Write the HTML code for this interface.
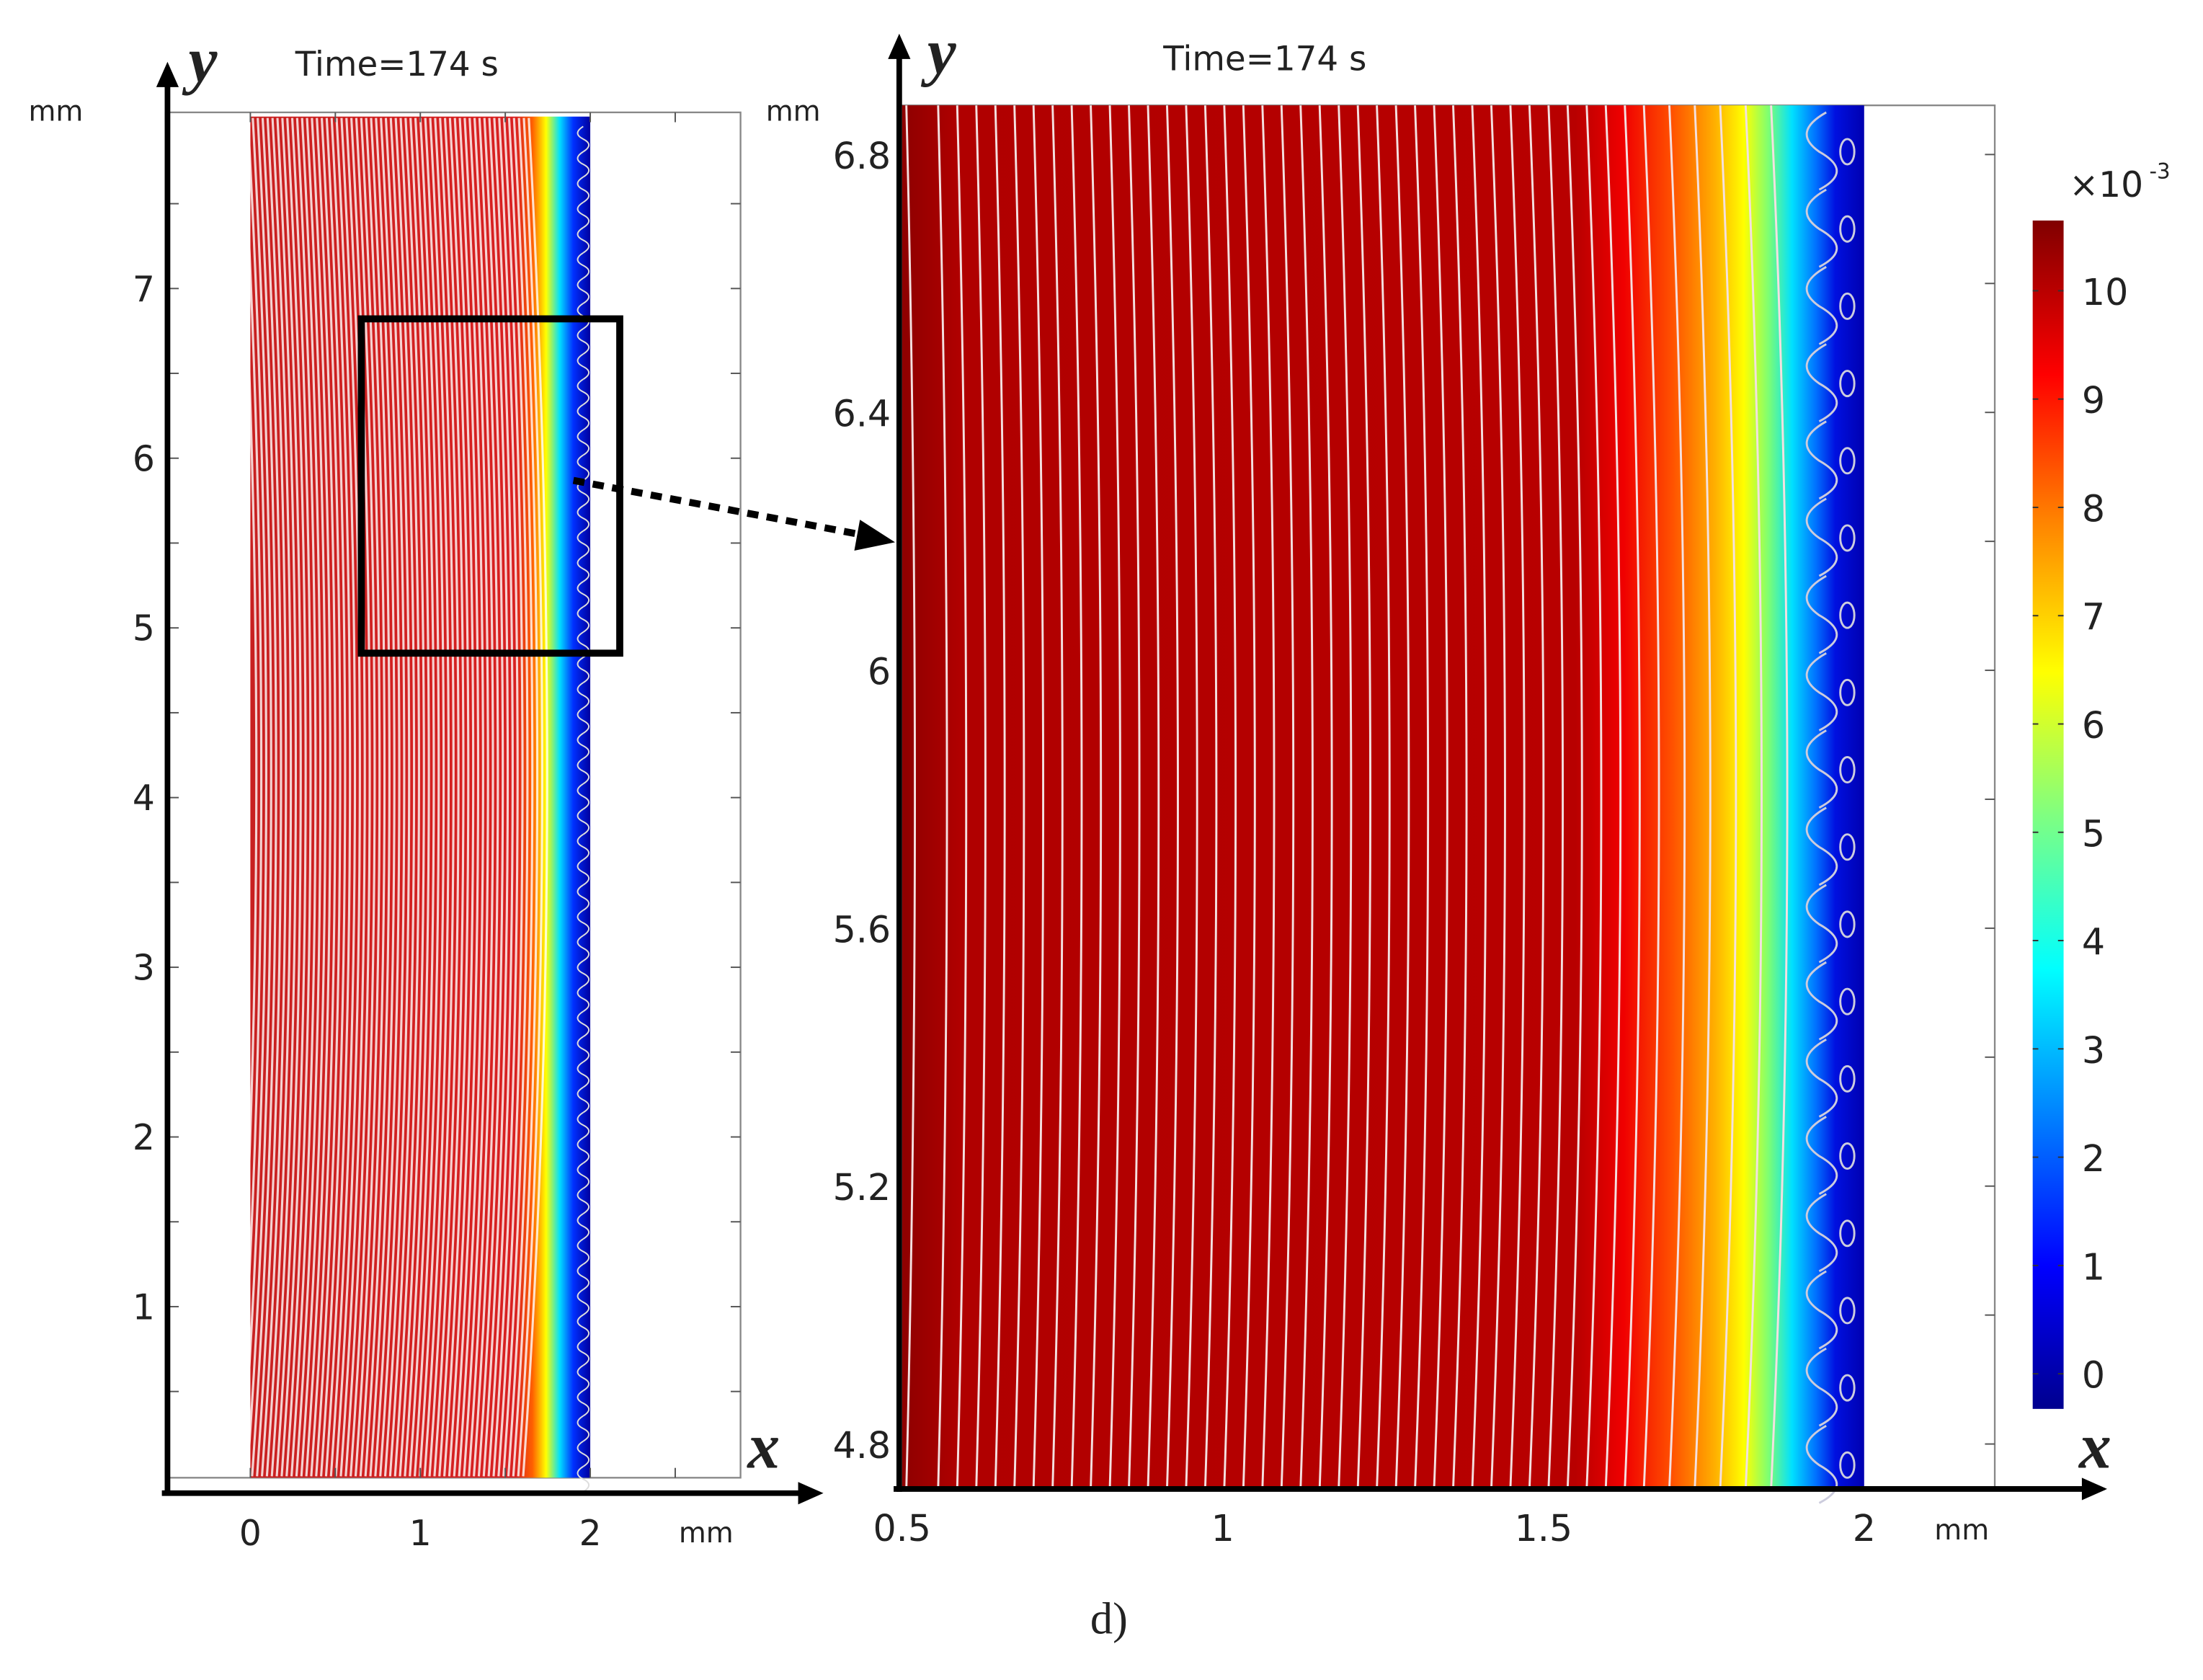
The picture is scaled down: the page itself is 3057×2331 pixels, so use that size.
<!DOCTYPE html>
<html><head><meta charset="utf-8"><style>
html,body{margin:0;padding:0;background:#fff;}
svg{display:block;}
text{font-family:"DejaVu Sans","Liberation Sans",sans-serif;fill:#222;}
</style></head><body>
<svg id="fig" width="3057" height="2331" viewBox="0 0 1568 1196" xmlns="http://www.w3.org/2000/svg">
<defs>
<linearGradient id="gR" x1="642" x2="1327" y1="0" y2="0" gradientUnits="userSpaceOnUse">
<stop offset="0" stop-color="#8e0000"/><stop offset="0.06" stop-color="#b00000"/><stop offset="0.7" stop-color="#b80000"/>
<stop offset="0.75" stop-color="#f00000"/><stop offset="0.8" stop-color="#ff5000"/><stop offset="0.845" stop-color="#ffb000"/>
<stop offset="0.875" stop-color="#ffff00"/><stop offset="0.9" stop-color="#80ff70"/><stop offset="0.925" stop-color="#00e0ff"/>
<stop offset="0.95" stop-color="#0070ff"/><stop offset="0.97" stop-color="#0010e0"/><stop offset="1" stop-color="#0000b0"/>
</linearGradient>
<linearGradient id="gL" x1="178" x2="420" y1="0" y2="0" gradientUnits="userSpaceOnUse">
<stop offset="0" stop-color="#c82020"/><stop offset="0.78" stop-color="#d82020"/><stop offset="0.83" stop-color="#ff6000"/>
<stop offset="0.87" stop-color="#ffff00"/><stop offset="0.91" stop-color="#00e0ff"/><stop offset="0.95" stop-color="#0030ff"/><stop offset="1" stop-color="#0000a0"/>
</linearGradient>
<linearGradient id="gC" x1="0" x2="0" y1="1003" y2="157" gradientUnits="userSpaceOnUse">
<stop offset="0" stop-color="#00008f"/><stop offset="0.12" stop-color="#0000ff"/><stop offset="0.37" stop-color="#00ffff"/>
<stop offset="0.5" stop-color="#80ff80"/><stop offset="0.62" stop-color="#ffff00"/><stop offset="0.75" stop-color="#ff8000"/>
<stop offset="0.87" stop-color="#ff0000"/><stop offset="1" stop-color="#800000"/>
</linearGradient>
</defs>
<g id="layer"></g>
</svg>
<script>
// data arrays
const leftXTicks=[0,1,2];
const leftYTicks=[1,2,3,4,5,6,7];
const rightXTicks=[0.5,1,1.5,2];
const rightYTicks=[4.8,5.2,5.6,6.0,6.4,6.8];
const rightYLabels=["4.8","5.2","5.6","6","6.4","6.8"];
const cbTicks=[0,1,2,3,4,5,6,7,8,9,10];
const contourLevelsRight=[0.52,0.57,0.60,0.63,0.66,0.69,0.72,0.75,0.78,0.81,0.84,0.87,0.90,0.93,0.96,0.99,1.02,1.05,1.08,1.11,1.14,1.17,1.20,1.23,1.26,1.29,1.32,1.35,1.38,1.41,1.44,1.47,1.50,1.53,1.56,1.59,1.62,1.65,1.68,1.72,1.76,1.80,1.84,1.88];

const NS="http://www.w3.org/2000/svg";
const L=document.getElementById('layer');
function mk(tag,attrs,parent){const e=document.createElementNS(NS,tag);for(const k in attrs)e.setAttribute(k,attrs[k]);(parent||L).appendChild(e);return e;}
const lx=v=>178+v*121, ly=v=>1051-v*120.8;
const rx=v=>642+(v-0.5)*456.7, ry=v=>110+(6.8-v)*459;
const cy=v=>978-v*77.1;

// ---- left plot ----
let g=mk('g',{});


let f=mk('rect',{x:120,y:80,width:407,height:972,fill:'none',stroke:'#888','stroke-width':1.2},g);

let fld=mk('rect',{x:178,y:83,width:242,height:969,fill:'url(#gL)'},g);

for(let i=0;i<60;i++){const x0=lx(i*0.029+0.01);if(x0>392)break;
 const p=mk('path',{d:`M${x0-14},1051 Q${x0+18},600 ${x0-10},84`,stroke:'#fff','stroke-opacity':0.8,'stroke-width':1.6,fill:'none'},g);
 }
for(let y=90;y<1050;y+=18){const p=mk('path',{d:`M415,${y} q-8,5 0,9 q8,4 0,9`,stroke:'#ddd','stroke-width':1,fill:'none'},g);
 }
leftXTicks.forEach(v=>{const t=mk('text',{x:lx(v),y:1100,'font-size':25,'text-anchor':'middle'},g);t.textContent=v;
 });
[-0.5,0.5,1.5,2.5].concat(leftXTicks).forEach(v=>{mk('line',{x1:lx(v),x2:lx(v),y1:1052,y2:1045,stroke:'#555'},g);mk('line',{x1:lx(v),x2:lx(v),y1:80,y2:87,stroke:'#555'},g);});
leftYTicks.forEach(v=>{const t=mk('text',{x:110,y:ly(v)+9,'font-size':25,'text-anchor':'end'},g);t.textContent=v;
 });
for(let v=0.5;v<8;v+=0.5){mk('line',{x1:120,x2:127,y1:ly(v),y2:ly(v),stroke:'#555'},g);mk('line',{x1:527,x2:520,y1:ly(v),y2:ly(v),stroke:'#555'},g);}
let t=mk('text',{x:210,y:54,'font-size':24},g);t.textContent='Time=174 s';
t=mk('text',{x:20,y:86,'font-size':20},g);t.textContent='mm';
t=mk('text',{x:483,y:1098,'font-size':20},g);t.textContent='mm';
mk('line',{x1:119,y1:1062,x2:119,y2:55,stroke:'#000','stroke-width':4},g);
mk('path',{d:'M111,62 L119,44 L127,62 Z',fill:'#000'},g);
mk('line',{x1:115,y1:1063,x2:572,y2:1063,stroke:'#000','stroke-width':4},g);
mk('path',{d:'M568,1055 L586,1063 L568,1071 Z',fill:'#000'},g);
t=mk('text',{x:134,y:58,'font-size':46,'font-style':'italic','font-weight':'bold'},g);t.textContent='y';t.style.fontFamily='"Liberation Serif",serif';
t=mk('text',{x:532,y:1045,'font-size':46,'font-style':'italic','font-weight':'bold'},g);t.textContent='x';t.style.fontFamily='"Liberation Serif",serif';
let zr=mk('rect',{x:257,y:227,width:184,height:238,fill:'none',stroke:'#000','stroke-width':5},g);

let ar=mk('line',{x1:408,y1:342,x2:615,y2:381,stroke:'#000','stroke-width':5,'stroke-dasharray':'8,6'},g);

mk('path',{d:'M612,370 L637,386 L608,392 Z',fill:'#000'},g);

// ---- right plot ----
g=mk('g',{});


f=mk('rect',{x:640,y:75,width:780,height:985,fill:'none',stroke:'#888','stroke-width':1.2},g);

fld=mk('rect',{x:642,y:75,width:685,height:985,fill:'url(#gR)'},g);

contourLevelsRight.forEach(v=>{const x0=rx(v);const bow=6+(v-0.5)*4;
 const p=mk('path',{d:`M${x0-bow},75 Q${x0+bow},567 ${x0-bow},1060`,stroke:'#f4e0e0','stroke-width':1.5,fill:'none'},g);
 });
for(let y=80;y<1050;y+=55){const p=mk('path',{d:`M1300,${y} q-25,14 -5,28 q25,14 0,27`,stroke:'#ccd','stroke-width':1.5,fill:'none'},g);
 
 const c=mk('ellipse',{cx:1315,cy:y+28,rx:5,ry:9,stroke:'#ccd','stroke-width':1.5,fill:'none'},g);
 }
rightXTicks.forEach(v=>{const t=mk('text',{x:rx(v),y:1097,'font-size':26,'text-anchor':'middle'},g);t.textContent=v;
 });
rightYTicks.forEach((v,i)=>{const t=mk('text',{x:634,y:ry(v)+10,'font-size':26,'text-anchor':'end'},g);t.textContent=rightYLabels[i];
 
 mk('line',{x1:1420,x2:1413,y1:ry(v),y2:ry(v),stroke:'#555'},g);
 if(v<6.7)mk('line',{x1:1420,x2:1413,y1:ry(v+0.2),y2:ry(v+0.2),stroke:'#555'},g);});
t=mk('text',{x:828,y:50,'font-size':24},g);t.textContent='Time=174 s';
t=mk('text',{x:545,y:86,'font-size':20},g);t.textContent='mm';
t=mk('text',{x:1377,y:1096,'font-size':20},g);t.textContent='mm';
mk('line',{x1:640,y1:1062,x2:640,y2:35,stroke:'#000','stroke-width':4},g);
mk('path',{d:'M632,42 L640,24 L648,42 Z',fill:'#000'},g);
mk('line',{x1:636,y1:1060,x2:1485,y2:1060,stroke:'#000','stroke-width':4},g);
mk('path',{d:'M1482,1052 L1500,1060 L1482,1068 Z',fill:'#000'},g);
t=mk('text',{x:660,y:52,'font-size':46,'font-style':'italic','font-weight':'bold'},g);t.textContent='y';t.style.fontFamily='"Liberation Serif",serif';
t=mk('text',{x:1480,y:1045,'font-size':46,'font-style':'italic','font-weight':'bold'},g);t.textContent='x';t.style.fontFamily='"Liberation Serif",serif';

// ---- colorbar ----
g=mk('g',{});


let cb=mk('rect',{x:1447,y:157,width:22,height:846,fill:'url(#gC)'},g);

cbTicks.forEach(v=>{const t=mk('text',{x:1482,y:cy(v)+10,'font-size':26},g);t.textContent=v;
 
 mk('line',{x1:1447,x2:1451,y1:cy(v),y2:cy(v),stroke:'#333'},g);mk('line',{x1:1465,x2:1469,y1:cy(v),y2:cy(v),stroke:'#333'},g);});
t=mk('text',{x:1473,y:140,'font-size':25},g);t.textContent='×10';
t=mk('text',{x:1530,y:127,'font-size':15},g);t.textContent='-3';

t=mk('text',{x:776,y:1163,'font-size':32},L);t.textContent='d)';t.style.fontFamily='"Liberation Serif",serif';

</script>
</body></html>
